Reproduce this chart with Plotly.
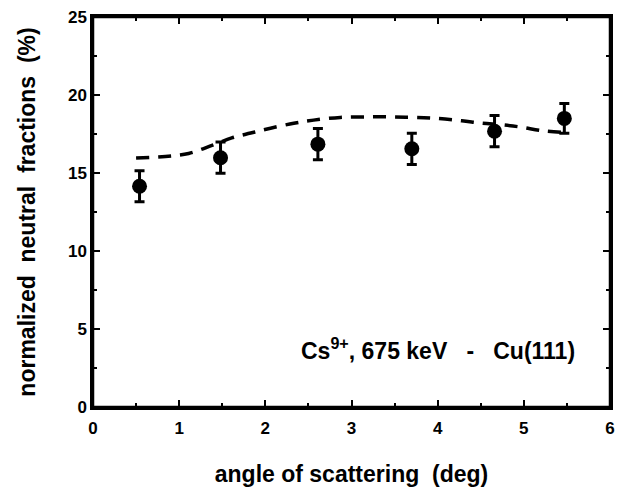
import plotly.graph_objects as go

# Measured data points (angle in deg, normalized neutral fraction in %)
angle = [0.54, 1.48, 2.61, 3.70, 4.66, 5.47]
fraction = [14.15, 15.98, 16.85, 16.55, 17.68, 18.50]
err = [1.0, 1.0, 1.0, 1.0, 1.0, 0.95]

# Calculated (dashed) curve
curve_x = [0.50, 0.84, 1.11, 1.38, 1.61, 1.83, 2.06, 2.33, 2.56, 2.87, 3.25,
           3.63, 3.98, 4.28, 4.51, 4.76, 4.97, 5.20, 5.45]
curve_y = [15.96, 16.06, 16.25, 16.77, 17.25, 17.56, 17.87, 18.19, 18.39, 18.56, 18.60,
           18.58, 18.50, 18.35, 18.20, 18.08, 17.94, 17.72, 17.60]

xticks = [0, 1, 2, 3, 4, 5, 6]
yticks = [0, 5, 10, 15, 20, 25]

FONT = "Liberation Sans, Arial, sans-serif"
NB = "\u00a0"

fig = go.Figure()
fig.add_trace(go.Scatter(
    x=curve_x, y=curve_y, mode="lines",
    line=dict(color="black", width=3.5, dash="13px,9px", shape="spline"),
    showlegend=False, hoverinfo="skip"))
fig.add_trace(go.Scatter(
    x=angle, y=fraction, mode="markers",
    marker=dict(color="black", size=15, symbol="circle"),
    error_y=dict(type="data", array=err, color="black", thickness=3, width=5),
    showlegend=False))

fig.add_annotation(
    x=5.62, y=3.75, xref="x", yref="y", xanchor="right", yanchor="middle",
    text="Cs<sup>9+</sup>, 675 keV" + NB * 3 + "-" + NB * 3 + "Cu(111)", showarrow=False,
    font=dict(family=FONT, size=23, color="black", weight="bold"))

# plot frame
fig.add_shape(type="rect", xref="paper", yref="paper", x0=0, x1=1, y0=0, y1=1,
              line=dict(color="black", width=2.5), layer="above")

axis_common = dict(
    showline=True, linecolor="black", linewidth=2.5, mirror="ticks",
    ticks="inside", ticklen=7, tickwidth=2, tickcolor="black",
    showgrid=False, zeroline=False,
    tickfont=dict(family=FONT, size=17, color="black", weight="bold"),
)

fig.update_xaxes(
    range=[0, 6], tickvals=xticks, ticktext=[str(v) for v in xticks],
    minor=dict(ticks="inside", ticklen=4, tickwidth=2, tickcolor="black", dtick=0.5, showgrid=False),
    title=dict(text="angle of scattering" + NB * 2 + "(deg)", standoff=29,
               font=dict(family=FONT, size=23, color="black", weight="bold")),
    ticklabelstandoff=4,
    **axis_common)
fig.update_yaxes(
    range=[0, 25], tickvals=yticks, ticktext=[str(v) for v in yticks],
    minor=dict(ticks="inside", ticklen=4, tickwidth=2, tickcolor="black", dtick=2.5, showgrid=False),
    title=dict(text="normalized" + NB * 2 + "neutral" + NB * 2 + "fractions" + NB * 2 + "(%)", standoff=26,
               font=dict(family=FONT, size=23, color="black", weight="bold")),
    ticklabelstandoff=0,
    **axis_common)

fig.update_layout(
    width=623, height=491,
    margin=dict(l=93, r=8, t=14, b=76),
    paper_bgcolor="white", plot_bgcolor="white",
)

fig.write_html("out.html",
               config={"displayModeBar": False},
               post_script="document.body.style.margin='0';document.body.style.overflow='hidden';")
